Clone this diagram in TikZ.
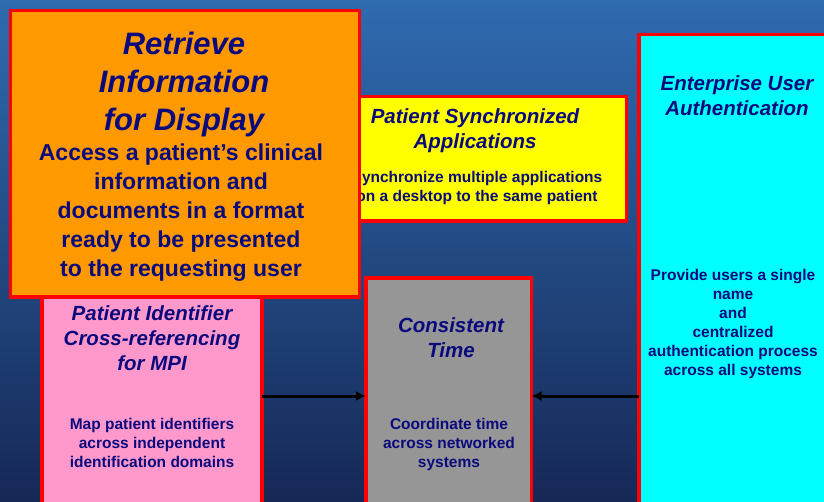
\documentclass[tikz,border=0pt]{standalone}
\usepackage{fontspec}
\setmainfont{Liberation Sans}
\usepackage{tikz}
\usetikzlibrary{calc, arrows.meta}
\definecolor{bgtop}{RGB}{47,107,176}
\definecolor{bgbot}{RGB}{22,40,86}
\definecolor{navy}{RGB}{10,10,125}
\definecolor{orangebox}{RGB}{255,153,0}
\definecolor{yellowbox}{RGB}{255,255,0}
\definecolor{cyanbox}{RGB}{0,255,255}
\definecolor{pinkbox}{RGB}{255,153,204}
\definecolor{graybox}{RGB}{150,150,150}
\definecolor{redline}{RGB}{255,0,0}
\tikzstyle{box} = [draw=redline, line width=3.5pt, rectangle, outer sep=0pt, inner sep=0pt, anchor=north west]
\tikzstyle{head} = [text=navy, font=\bfseries\itshape\fontsize{20.5}{25}\selectfont, align=center, anchor=base, inner sep=0pt]
\tikzstyle{body} = [text=navy, font=\bfseries\fontsize{15.5}{19}\selectfont, align=center, anchor=base, inner sep=0pt]
\tikzstyle{connector} = [->, draw=black, line width=3pt]

\begin{document}
\begin{tikzpicture}[x=1pt, y=-1pt, >={Latex[length=10pt,width=10pt]}]
      \path[use as bounding box, clip] (0,0) rectangle (824,501);
      \shade[top color=bgtop, bottom color=bgbot] (0,0) rectangle (824,501);
      % synchronized applications
      \node [box, fill=yellowbox, minimum width=301.5pt, minimum height=124.5pt] (psa) at (325,96.5) {};
      \node [head] (psah) at (475,148) {Patient Synchronized\\Applications};
      \node [body] (psab) at (477,201) {Synchronize multiple applications\\on a desktop to the same patient};
      % user authentication
      \node [box, fill=cyanbox, minimum width=195pt, minimum height=723pt] (eua) at (639,34.5) {};
      \node [head] (euah) at (737,115) {Enterprise User\\Authentication};
      \node [body] (euab) at (733,375) {Provide users a single\\name\\and\\centralized\\authentication process\\across all systems};
      % cross-referencing
      \node [box, fill=pinkbox, minimum width=220pt, minimum height=232pt] (pix) at (42,280) {};
      \node [head] (pixh) at (152,370) {Patient Identifier\\Cross-referencing\\for MPI};
      \node [body] (pixb) at (152,467) {Map patient identifiers\\across independent\\identification domains};
      % time
      \node [box, fill=graybox, minimum width=165.5pt, minimum height=236pt] (ct) at (366,278) {};
      \node [head] (cth) at (451,357) {Consistent\\Time};
      \node [body] (ctb) at (449,467) {Coordinate time\\across networked\\systems};
      % retrieve information
      \node [box, fill=orangebox, minimum width=349pt, minimum height=286.5pt] (rid) at (10.5,10.5) {};
      \node [head, font=\bfseries\itshape\fontsize{31}{38}\selectfont] (ridh) at (184,130) {Retrieve\\Information\\for Display};
      \node [body, font=\bfseries\fontsize{23}{29}\selectfont] (ridb) at (181,276) {Access a patient’s clinical\\information and\\documents in a format\\ready to be presented\\to the requesting user};
      \draw[connector] (pix.east) -- (ct.west);
      \draw[connector] (eua.west) -- (ct.east);
\end{tikzpicture}
\end{document}
